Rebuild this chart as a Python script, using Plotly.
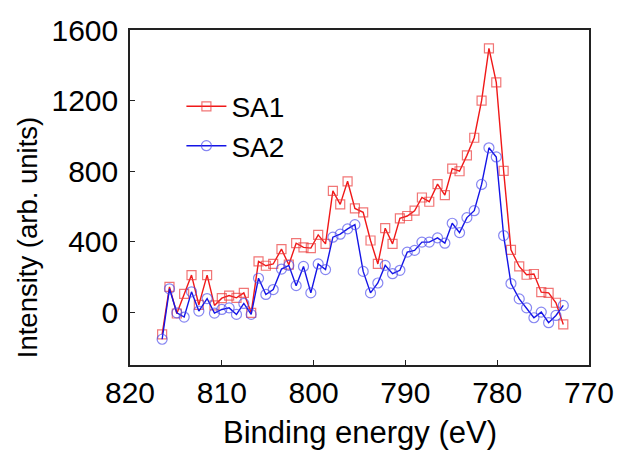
import plotly.graph_objects as go

# binding energy (eV), shared by both samples
energy = [816.5, 815.7, 814.9, 814.1, 813.3, 812.5, 811.6, 810.8, 810.0, 809.2,
          808.4, 807.6, 806.8, 806.0, 805.2, 804.4, 803.5, 802.7, 801.9, 801.1,
          800.3, 799.5, 798.7, 797.9, 797.1, 796.3, 795.5, 794.6, 793.8, 793.0,
          792.2, 791.4, 790.6, 789.8, 789.0, 788.2, 787.4, 786.5, 785.7, 784.9,
          784.1, 783.3, 782.5, 781.7, 780.9, 780.1, 779.3, 778.5, 777.6, 776.8,
          776.0, 775.2, 774.4, 773.6, 772.8]

sa1 = [-126, 143, -8, 103, 210, 41, 210, 38, 79, 94,
       81, 109, -4, 288, 263, 273, 357, 269, 391, 367,
       363, 438, 387, 688, 611, 742, 588, 566, 406, 273,
       476, 387, 532, 545, 575, 650, 626, 726, 664, 814,
       799, 889, 989, 1199, 1496, 1303, 801, 353, 259, 212,
       216, 113, 109, 53, -70]

sa2 = [-154, 132, -4, -28, 115, 6, 77, -6, 15, 24,
       -13, 49, -13, 192, 100, 128, 244, 265, 150, 259,
       109, 273, 241, 425, 442, 472, 496, 231, 109, 165,
       265, 218, 237, 340, 350, 397, 397, 421, 391, 504,
       451, 536, 575, 724, 932, 880, 434, 162, 75, 24,
       -32, 0, -60, -19, 38]

y_ticks = [0, 400, 800, 1200, 1600]
x_ticks = [820, 810, 800, 790, 780, 770]

FONT = "Liberation Sans, Arial, sans-serif"

fig = go.Figure()
fig.add_trace(go.Scatter(
    x=energy, y=sa1, name="SA1", mode="lines+markers",
    line=dict(color="#f01818", width=1.4),
    marker=dict(symbol="square-open", size=9,
                color="rgba(235,60,60,0.7)", line=dict(width=1.2))))
fig.add_trace(go.Scatter(
    x=energy, y=sa2, name="SA2", mode="lines+markers",
    line=dict(color="#1414e6", width=1.4),
    marker=dict(symbol="circle-open", size=10,
                color="rgba(70,70,235,0.65)", line=dict(width=1.2))))

axis_common = dict(
    showline=True, linecolor="#222", linewidth=1.5, mirror=True,
    ticks="inside", ticklen=5, tickwidth=1.2, tickcolor="#222",
    showgrid=False, zeroline=False, automargin=False,
    ticklabeloverflow="allow",
    tickfont=dict(family=FONT, size=30, color="black"),
)

fig.update_xaxes(range=[820, 770], tickvals=x_ticks, **axis_common)
fig.update_yaxes(range=[-300, 1600], tickvals=y_ticks,
                 ticklabelstandoff=4, **axis_common)

# axis titles placed as annotations to match the original offsets
fig.add_annotation(text="Binding energy (eV)", xref="paper", yref="paper",
                   x=0.502, y=-0.201, xanchor="center", yanchor="middle",
                   showarrow=False,
                   font=dict(family=FONT, size=31, color="black"))
fig.add_annotation(text="Intensity (arb. units)", xref="paper", yref="paper",
                   x=-0.224, y=0.379, xanchor="center", yanchor="middle",
                   textangle=-90, showarrow=False,
                   font=dict(family=FONT, size=27.5, color="black"))

fig.update_layout(
    width=618, height=452,
    margin=dict(l=130, r=29, t=30, b=87),
    paper_bgcolor="white", plot_bgcolor="white",
    font=dict(family=FONT, color="black"),
    legend=dict(x=0.112, y=0.846, xanchor="left", yanchor="top",
                font=dict(family=FONT, size=28, color="black"),
                itemwidth=40,
                bgcolor="rgba(0,0,0,0)", tracegroupgap=0),
    showlegend=True,
)

# drop the default page margin so the figure sits at the window's corner
fig.write_html("out.html", config={"displayModeBar": False},
               post_script="document.body.style.margin = '0';")
